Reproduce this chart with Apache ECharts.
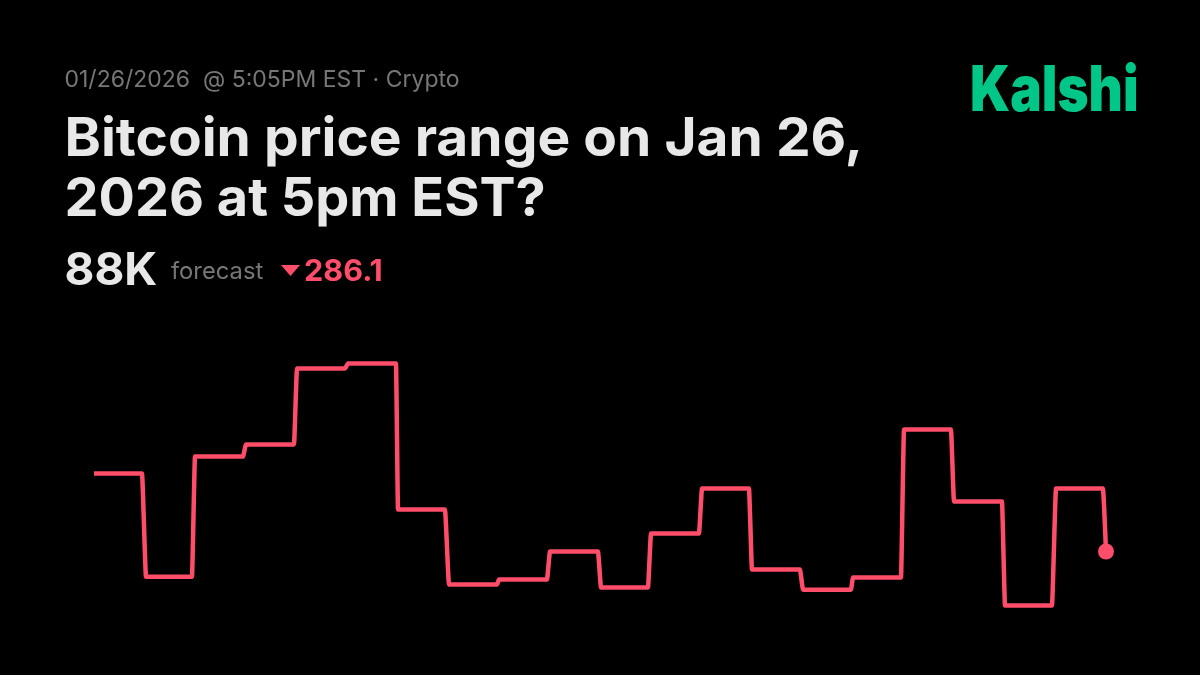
<!DOCTYPE html>
<html><head><meta charset="utf-8">
<style>html,body{margin:0;padding:0;background:#000}#c{width:1200px;height:675px}</style>
<script src="https://cdn.jsdelivr.net/npm/echarts@6/dist/echarts.min.js"></script>
</head><body><div id="c"></div>
<script>
const minutes = [0,4.74, 5.14,9.68, 9.98,14.72, 15.02,19.76, 20.06,24.80, 25.10,29.84, 30.04,34.68, 35.08,39.82, 40.02,44.76, 45.06,49.80, 50.10,54.74, 55.04,59.78, 60.08,64.72, 65.02,69.76, 70.06,74.80, 75.00,79.74, 80.04,84.68, 84.98,89.72, 90.02,94.66, 95.06,99.70, 100];
const prices = [88354,88354, 87886,87886, 88431,88431, 88486,88486, 88831,88831, 88854,88854, 88191,88191, 87850,87850, 87873,87873, 88000,88000, 87837,87837, 88082,88082, 88286,88286, 87918,87918, 87827,87827, 87882,87882, 88554,88554, 88227,88227, 87755,87755, 88286,88286, 88000];
const dateLine = '01/26/2026  @ 5:05PM EST · Crypto';
const titleLines = ['Bitcoin price range on Jan 26,', '2026 at 5pm EST?'];
const forecastValue = '88K';
const forecastLabel = 'forecast';
const changeValue = '286.1';
const brand = 'Kalshi';

const RED = '#ff4d6a';
const FONT = 'Inter';
const chart = echarts.init(document.getElementById('c'), null, {renderer:'canvas'});
const points = minutes.map((m,i)=>{
  const last = i === minutes.length-1;
  return last ? {value:[m,prices[i]], symbol:'circle', symbolSize:16, itemStyle:{color:RED}} : {value:[m,prices[i]], symbol:'none'};
});
const txt = (x,y,text,size,weight,fill,scaleX)=>({type:'text',x,y,scaleX:scaleX||1,silent:true,style:{text,fontFamily:FONT,fontSize:size,fontWeight:weight,fill,verticalAlign:'alphabetic'}});
chart.setOption({
  backgroundColor:'#000',
  animation:false,
  grid:{left:94,right:94,top:353.3,height:264.3},
  xAxis:{type:'value',min:0,max:100,show:false},
  yAxis:{type:'value',min:87700,max:88900,show:false},
  series:[{type:'line',data:points,showSymbol:true,smooth:0.18,smoothMonotone:'x',
    lineStyle:{color:RED,width:4.5,join:'round',cap:'butt'},itemStyle:{color:RED},z:3}],
  graphic:[
    txt(64.5,69,dateLine,23,400,'#777777'),
    txt(64.5,113,titleLines[0],54,700,'#e8e8e8',1.02),
    txt(64.5,173,titleLines[1],54,700,'#e8e8e8',1),
    txt(64.5,249,forecastValue,45,700,'#e8e8e8',1.02),
    txt(171,260,forecastLabel,24,400,'#777777',0.99),
    {type:'polygon',silent:true,shape:{points:[[281,265],[300,265],[290.5,276]]},style:{fill:RED}},
    txt(304,257,changeValue,30,700,RED,1.02),
    txt(970,61,brand,63,900,'#00c787',0.84)
  ]
});
</script></body></html>
